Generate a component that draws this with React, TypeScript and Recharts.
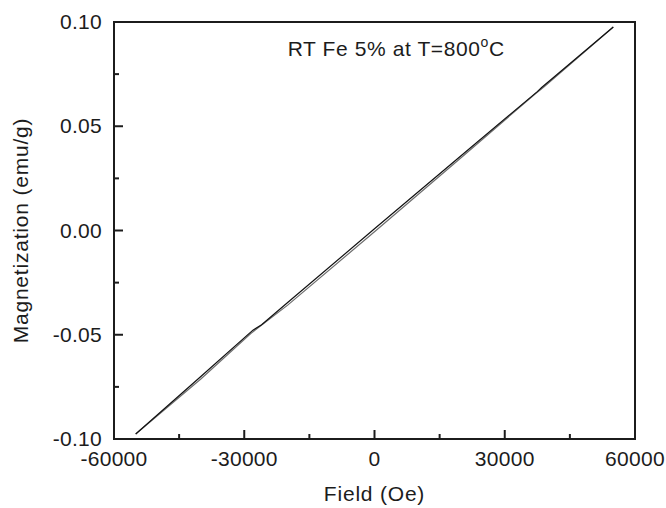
import React from 'react';
import { LineChart, Line, XAxis, YAxis, ReferenceArea, ReferenceDot, Label } from 'recharts';

// descending branch of the loop (high field -> low field)
const descField = [55000, 40000, 38500, 37500, 20000, 0, -20000, -26000, -28000, -40000, -55000];
const descMag = [0.0976, 0.0712, 0.0686, 0.0666, 0.036, 0.0008, -0.0345, -0.0452, -0.0478, -0.07, -0.0976];

// ascending branch
const ascField = [-55000, -40000, -28500, -26500, -20000, 0, 20000, 37000, 39000, 55000];
const ascMag = [-0.0976, -0.0712, -0.0494, -0.0462, -0.0358, -0.0006, 0.035, 0.0655, 0.0688, 0.0976];

const xTicks = [-60000, -45000, -30000, -15000, 0, 15000, 30000, 45000, 60000];
const yTicks = [-0.1, -0.075, -0.05, -0.025, 0, 0.025, 0.05, 0.075, 0.1];

const FONT = 'Liberation Sans, Arial, sans-serif';
const INK = '#1c1c1c';

const descData = descField.map((h, i) => ({ h, m: descMag[i] }));
const ascData = ascField.map((h, i) => ({ h, m: ascMag[i] }));

function XTick({ x, y, payload }: any) {
  const v = payload.value as number;
  const major = v % 30000 === 0;
  return (
    <g>
      <line x1={x} x2={x} y1={y} y2={y - (major ? 9 : 5)} stroke={INK} strokeWidth={2} />
      {major && (
        <text x={x} y={y + 27} textAnchor="middle" fontSize={21} letterSpacing={0.3} fontFamily={FONT} fill={INK}>
          {v}
        </text>
      )}
    </g>
  );
}

function YTick({ x, y, payload }: any) {
  const v = payload.value as number;
  const major = Math.round(v / 0.025) % 2 === 0;
  return (
    <g>
      <line x1={x} x2={x + (major ? 9 : 5)} y1={y} y2={y} stroke={INK} strokeWidth={2} />
      {major && (
        <text x={x - 12} y={y + 7} textAnchor="end" fontSize={21} letterSpacing={0.3} fontFamily={FONT} fill={INK}>
          {v.toFixed(2)}
        </text>
      )}
    </g>
  );
}

export default function App() {
  return (
    <div style={{ position: 'absolute', left: 0, top: 0, background: '#fff' }}>
      <LineChart width={666} height={508} margin={{ top: 22, right: 31, left: 0, bottom: 0 }}>
        <XAxis
          type="number"
          dataKey="h"
          domain={[-60000, 60000]}
          ticks={xTicks}
          interval={0}
          tickLine={false}
          tickSize={0}
          tickMargin={0}
          height={69}
          axisLine={{ stroke: INK, strokeWidth: 2 }}
          tick={<XTick />}
        >
          <Label
            content={({ viewBox }: any) => (
              <text
                x={viewBox.x + viewBox.width / 2}
                y={viewBox.y + 62}
                textAnchor="middle"
                fontSize={21}
                letterSpacing={0.8}
                fontFamily={FONT}
                fill={INK}
              >
                Field (Oe)
              </text>
            )}
          />
        </XAxis>
        <YAxis
          type="number"
          dataKey="m"
          domain={[-0.1, 0.1]}
          ticks={yTicks}
          interval={0}
          tickLine={false}
          tickSize={0}
          tickMargin={0}
          width={114}
          axisLine={{ stroke: INK, strokeWidth: 2 }}
          tick={<YTick />}
        >
          <Label
            content={({ viewBox }: any) => {
              const cx = 28;
              const cy = viewBox.y + viewBox.height / 2;
              return (
                <text
                  x={cx}
                  y={cy}
                  transform={`rotate(-90 ${cx} ${cy})`}
                  textAnchor="middle"
                  fontSize={21}
                  letterSpacing={0.8}
                  fontFamily={FONT}
                  fill={INK}
                >
                  Magnetization (emu/g)
                </text>
              );
            }}
          />
        </YAxis>
        <ReferenceArea
          x1={-60000}
          x2={60000}
          y1={-0.1}
          y2={0.1}
          fill="none"
          stroke={INK}
          strokeWidth={2}
          ifOverflow="visible"
        />
        <Line
          data={ascData}
          dataKey="m"
          type="linear"
          stroke="#6e6e6e"
          strokeWidth={1.2}
          dot={false}
          isAnimationActive={false}
        />
        <Line
          data={descData}
          dataKey="m"
          type="linear"
          stroke="#111"
          strokeWidth={1.2}
          dot={false}
          isAnimationActive={false}
        />
        <ReferenceDot
          x={-20000}
          y={0.0837}
          r={0}
          fill="none"
          stroke="none"
          label={{
            content: ({ viewBox }: any) => (
              <text x={viewBox.x} y={viewBox.y} fontSize={21} letterSpacing={0.6} fontFamily={FONT} fill={INK}>
                RT Fe 5% at T=800
                <tspan fontSize={14} dy={-9}>o</tspan>
                <tspan dy={9}>C</tspan>
              </text>
            )
          }}
        />
      </LineChart>
    </div>
  );
}
